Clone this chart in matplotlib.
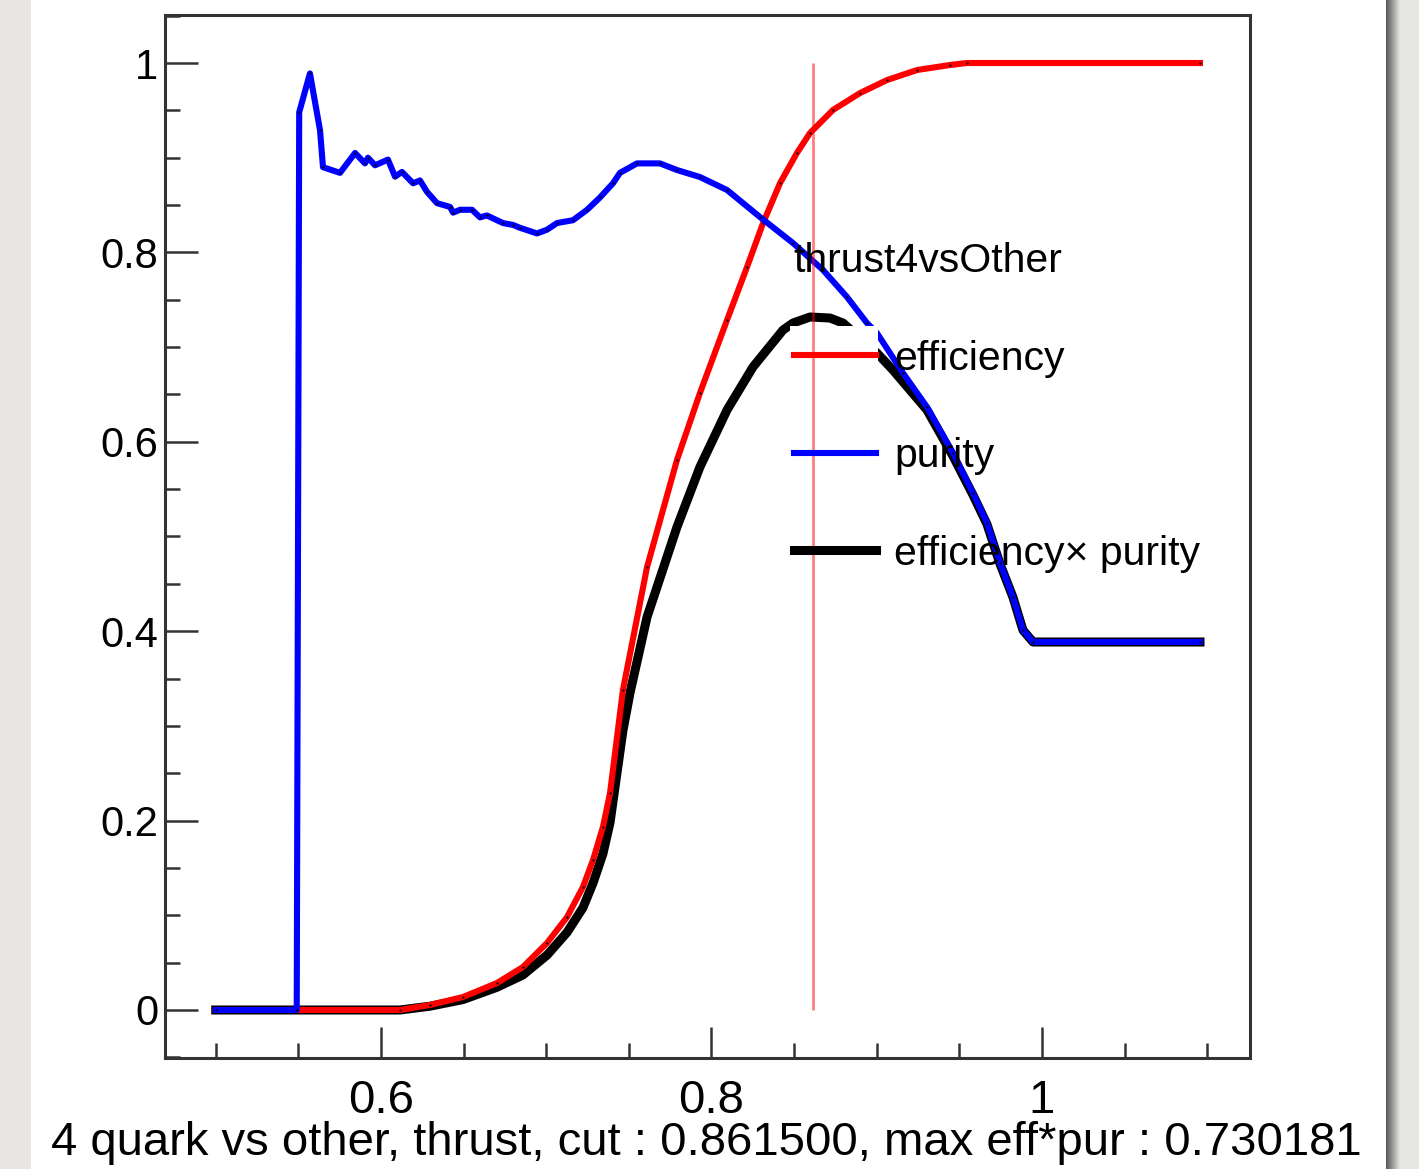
import numpy as np
import matplotlib.pyplot as plt
from matplotlib.patches import Rectangle
from matplotlib.ticker import MultipleLocator, FuncFormatter

plt.rcParams['font.family'] = ['Liberation Sans', 'DejaVu Sans']

# efficiency (red)
eff_x = [0.5, 0.6115, 0.6297, 0.6496, 0.6702, 0.6859, 0.7005, 0.7126, 0.7222, 0.7283,
         0.7343, 0.7386, 0.7464, 0.7610, 0.7791, 0.7930, 0.8094, 0.8215, 0.8312, 0.8415,
         0.8517, 0.8596, 0.8735, 0.8899, 0.9062, 0.9244, 0.9443, 0.9546, 1.0956]
eff_y = [0.0, 0.0, 0.0053, 0.0137, 0.0285, 0.0454, 0.0708, 0.0982, 0.1299, 0.1584,
         0.1932, 0.2291, 0.3379, 0.4678, 0.5808, 0.6515, 0.7286, 0.7846, 0.8310, 0.8733,
         0.9050, 0.9261, 0.9504, 0.9683, 0.9820, 0.9926, 0.9979, 1.0, 1.0]

# purity (blue)
pur_x = [0.5, 0.5490, 0.5505, 0.5570, 0.5631, 0.5649, 0.5752, 0.5843, 0.5903, 0.5921,
         0.5964, 0.6042, 0.6085, 0.6127, 0.6194, 0.6236, 0.6278, 0.6339, 0.6418, 0.6436,
         0.6478, 0.6551, 0.6599, 0.6641, 0.6738, 0.6799, 0.6841, 0.6944, 0.7005, 0.7065,
         0.7162, 0.7247, 0.7325, 0.7404, 0.7446, 0.7549, 0.7688, 0.7791, 0.7930, 0.8094,
         0.8293, 0.8493, 0.8675, 0.8820, 0.8941, 0.9001, 0.9159, 0.9304, 0.9461, 0.9582,
         0.9667, 0.9746, 0.9824, 0.9885, 0.9946, 1.0956]
pur_y = [0.0, 0.0, 0.948, 0.989, 0.929, 0.890, 0.884, 0.905, 0.894, 0.900,
         0.892, 0.898, 0.880, 0.885, 0.873, 0.876, 0.864, 0.852, 0.848, 0.842,
         0.845, 0.845, 0.837, 0.839, 0.831, 0.829, 0.826, 0.820, 0.824, 0.831,
         0.834, 0.845, 0.858, 0.873, 0.884, 0.894, 0.894, 0.887, 0.8796, 0.8659,
         0.8374, 0.8099, 0.7814, 0.7529, 0.7254, 0.7149, 0.6726, 0.6367, 0.5882, 0.5459,
         0.5143, 0.4720, 0.4361, 0.4013, 0.3886, 0.3886]

# efficiency x purity (black)
ep_x = [0.5, 0.6115, 0.6297, 0.6496, 0.6702, 0.6859, 0.7005, 0.7126, 0.7222, 0.7283,
        0.7343, 0.7386, 0.7464, 0.7507, 0.7610, 0.7791, 0.7930, 0.8094, 0.8251, 0.8433,
        0.8493, 0.8596, 0.8717, 0.8796, 0.9001, 0.9098, 0.9201, 0.9304, 0.9461, 0.9582,
        0.9667, 0.9746, 0.9824, 0.9885, 0.9946, 1.0956]
ep_y = [0.0, 0.0, 0.004, 0.011, 0.024, 0.037, 0.058, 0.082, 0.108, 0.134,
        0.165, 0.198, 0.295, 0.335, 0.415, 0.510, 0.5734, 0.6336, 0.6790, 0.7181,
        0.7254, 0.7318, 0.7307, 0.7254, 0.6938, 0.6758, 0.6547, 0.6336, 0.585, 0.544,
        0.513, 0.471, 0.436, 0.401, 0.3886, 0.3886]

cut = 0.8615
title = "4 quark vs other, thrust, cut : 0.861500, max eff*pur : 0.730181"

fig = plt.figure(figsize=(14.19, 11.69), dpi=100)
fig.patch.set_facecolor('#e8e6e2')
# white page + shadow on right edge
fig.patches.append(Rectangle((31 / 1419, 0), 1355 / 1419, 1, transform=fig.transFigure,
                             facecolor='white', edgecolor='none', zorder=-10))
for i, g in enumerate(np.linspace(0.35, 0.88, 14)):
    fig.patches.append(Rectangle(((1386 + i) / 1419, 0), 1.2 / 1419, 1, transform=fig.transFigure,
                                 facecolor=str(g), edgecolor='none', zorder=-10))

ax = fig.add_axes([165 / 1419, 1 - 1058 / 1169, 1085 / 1419, 1043 / 1169])
ax.set_facecolor('none')
ax.set_xlim(0.46929, 1.12587)
ax.set_ylim(-0.0507, 1.0507)

ax.plot(ep_x, ep_y, color='black', lw=6.5, marker='o', ms=1.6, mfc='black', mec='none',
        label='efficiency\u00d7 purity', zorder=2)
ax.plot(eff_x, eff_y, color='#ff0000', lw=4.4, marker='o', ms=1.6, mfc='black', mec='none',
        label='efficiency', zorder=3)
ax.plot(pur_x, pur_y, color='#0000ff', lw=4.4, marker='o', ms=1.6, mfc='black', mec='none',
        label='purity', zorder=4)

# white box left by the legend entry
ax.add_patch(Rectangle((0.8475, 0.655), 0.0533, 0.0673, facecolor='white', edgecolor='none', zorder=5))
ax.vlines(cut, 0, 1, color='#ff0000', alpha=0.5, lw=2, zorder=6)

h, l = ax.get_legend_handles_labels()
leg = ax.legend([h[1], h[2], h[0]], [l[1], l[2], l[0]], title='thrust4vsOther',
                loc='upper left', bbox_to_anchor=(0.5795, 0.782), frameon=False,
                fontsize=29.5, title_fontsize=29.5, alignment='left',
                handlelength=2.0, handletextpad=0.45, labelspacing=1.45,
                borderpad=0, borderaxespad=0)
for line in leg.get_lines():
    line.set_marker('')
leg.set_zorder(7)

for s in ax.spines.values():
    s.set_color('#333333')
    s.set_linewidth(2.2)

ax.xaxis.set_major_locator(MultipleLocator(0.2))
ax.xaxis.set_minor_locator(MultipleLocator(0.05))
ax.yaxis.set_major_locator(MultipleLocator(0.2))
ax.yaxis.set_minor_locator(MultipleLocator(0.05))
fmt = FuncFormatter(lambda v, p: '%g' % round(v, 3))
ax.xaxis.set_major_formatter(fmt)
ax.yaxis.set_major_formatter(fmt)
ax.tick_params(axis='both', which='both', direction='in', color='#333333', width=1.8,
               top=False, right=False)
ax.tick_params(axis='y', which='major', length=24, labelsize=30, pad=5)
ax.tick_params(axis='y', which='minor', length=11)
ax.tick_params(axis='x', which='major', length=22, labelsize=34, pad=15)
ax.tick_params(axis='x', which='minor', length=11)

fig.text(0.4975, 1 - 1143 / 1169, title, ha='center', va='center', fontsize=34)

plt.savefig('out.png', dpi=100, facecolor=fig.get_facecolor())
